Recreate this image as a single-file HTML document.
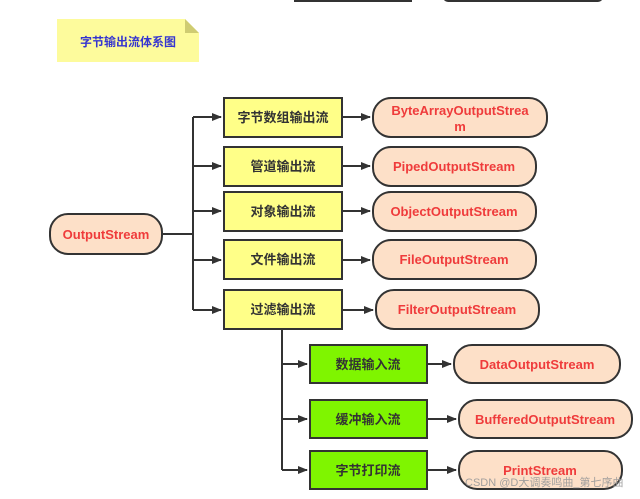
<!DOCTYPE html>
<html><head><meta charset="utf-8"><style>
html,body{margin:0;padding:0;background:#fff;}
svg{display:block;}
text{font-family:"Liberation Sans","Noto Sans CJK SC",sans-serif;font-weight:bold;font-size:13px;}
.cn{fill:#333;}
.en{fill:#ef3b3b;}
</style></head><body>
<svg width="640" height="499" viewBox="0 0 640 499" xmlns="http://www.w3.org/2000/svg">
<defs><marker id="a" markerWidth="10" markerHeight="10" refX="9" refY="5" orient="auto" markerUnits="userSpaceOnUse"><path d="M0,1 L10,5 L0,9 Z" fill="#333"/></marker></defs>
<rect x="294" y="-4" width="118" height="6" fill="#333"/>
<rect x="443" y="-8" width="160" height="10" rx="5" fill="#333"/>
<path d="M57,19 H185 L199,33 V62 H57 Z" fill="#fdfb9c"/>
<path d="M185,19 L199,33 H185 Z" fill="#cfcc72"/>
<text x="128" y="46" text-anchor="middle" style="fill:#3535d0;font-size:12px">字节输出流体系图</text>
<g stroke="#333" stroke-width="2" fill="none">
<path d="M162,234 H193 M193,117 V310"/>
<path d="M193,117 H221" marker-end="url(#a)"/><path d="M193,166 H221" marker-end="url(#a)"/>
<path d="M193,211 H221" marker-end="url(#a)"/><path d="M193,260 H221" marker-end="url(#a)"/>
<path d="M193,310 H221" marker-end="url(#a)"/>
<path d="M342,117 H370" marker-end="url(#a)"/><path d="M342,166 H370" marker-end="url(#a)"/>
<path d="M342,211 H370" marker-end="url(#a)"/><path d="M342,260 H370" marker-end="url(#a)"/>
<path d="M342,310 H373" marker-end="url(#a)"/>
<path d="M282,329 V470"/>
<path d="M282,364 H307" marker-end="url(#a)"/><path d="M282,419 H307" marker-end="url(#a)"/><path d="M282,470 H307" marker-end="url(#a)"/>
<path d="M428,364 H451" marker-end="url(#a)"/><path d="M428,419 H456" marker-end="url(#a)"/><path d="M428,470 H456" marker-end="url(#a)"/>
</g>
<g stroke="#333" stroke-width="2" fill="#ffff88">
<rect x="224" y="98" width="118" height="39"/><rect x="224" y="147" width="118" height="39"/>
<rect x="224" y="192" width="118" height="39"/><rect x="224" y="240" width="118" height="39"/>
<rect x="224" y="290" width="118" height="39"/>
</g>
<g stroke="#333" stroke-width="2" fill="#7ff500">
<rect x="310" y="345" width="117" height="38"/><rect x="310" y="400" width="117" height="38"/><rect x="310" y="451" width="117" height="38"/>
</g>
<g stroke="#333" stroke-width="2" fill="#fde0c8">
<rect x="50" y="214" width="112" height="40" rx="18"/>
<rect x="373" y="98" width="174" height="39" rx="18"/><rect x="373" y="147" width="163" height="39" rx="18"/>
<rect x="373" y="192" width="163" height="39" rx="18"/><rect x="373" y="240" width="163" height="39" rx="18"/>
<rect x="376" y="290" width="163" height="39" rx="18"/>
<rect x="454" y="345" width="166" height="38" rx="18"/><rect x="459" y="400" width="173" height="38" rx="18"/><rect x="459" y="451" width="163" height="38" rx="18"/>
</g>
<g text-anchor="middle">
<text class="cn" x="283" y="122">字节数组输出流</text>
<text class="cn" x="283" y="171">管道输出流</text>
<text class="cn" x="283" y="216">对象输出流</text>
<text class="cn" x="283" y="264">文件输出流</text>
<text class="cn" x="283" y="314">过滤输出流</text>
<text class="cn" x="368" y="369">数据输入流</text>
<text class="cn" x="368" y="424">缓冲输入流</text>
<text class="cn" x="368" y="475">字节打印流</text>
<text class="en" x="106" y="239">OutputStream</text>
<text class="en" x="460" y="115">ByteArrayOutputStrea</text>
<text class="en" x="460" y="131">m</text>
<text class="en" x="454" y="171">PipedOutputStream</text>
<text class="en" x="454" y="216">ObjectOutputStream</text>
<text class="en" x="454" y="264">FileOutputStream</text>
<text class="en" x="457" y="314">FilterOutputStream</text>
<text class="en" x="537" y="369">DataOutputStream</text>
<text class="en" x="545" y="424">BufferedOutputStream</text>
<text class="en" x="540" y="475">PrintStream</text>
</g>
<text x="465" y="486" style="font-weight:normal;font-size:11px;fill:#999;opacity:.9">CSDN @D大调奏鸣曲_第七序曲</text>
</svg>
</body></html>
